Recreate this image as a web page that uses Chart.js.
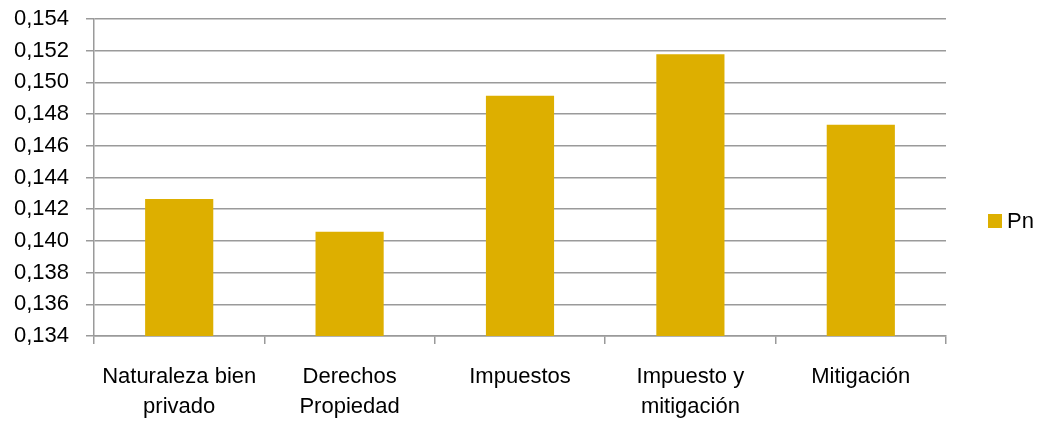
<!DOCTYPE html>
<html>
<head>
<meta charset="utf-8">
<script src="https://cdn.jsdelivr.net/npm/chart.js@4/dist/chart.umd.min.js"></script>
<style>
html,body{margin:0;padding:0;background:#fff;}
#wrap{width:1049px;height:425px;position:relative;}
</style>
</head>
<body>
<div id="wrap"><canvas id="c" width="1049" height="425"></canvas></div>
<script>
const categories = [
  ["Naturaleza bien", "privado"],
  ["Derechos", "Propiedad"],
  ["Impuestos"],
  ["Impuesto y", "mitigación"],
  ["Mitigación"]
];
const seriesName = "Pn";
const pnValues = [0.14264, 0.14058, 0.14916, 0.15177, 0.14733];
const yMin = 0.134, yMax = 0.154, yStep = 0.002;
const barColor = "#DDAF00";
const gridColor = "#9a9a9a";

const F = {family: '"Liberation Sans", Arial, sans-serif', size: 22};

const legendPlugin = {
  id: 'customLegend',
  afterDraw(chart) {
    const ctx = chart.ctx;
    ctx.save();
    ctx.fillStyle = barColor;
    ctx.fillRect(988, 214, 14, 14);
    ctx.fillStyle = '#000';
    ctx.font = F.size + 'px ' + F.family;
    ctx.textBaseline = 'middle';
    ctx.textAlign = 'left';
    ctx.fillText(chart.data.datasets[0].label, 1007, 222);
    ctx.restore();
  }
};

new Chart(document.getElementById('c'), {
  type: 'bar',
  data: {
    labels: categories,
    datasets: [{
      label: seriesName,
      data: pnValues,
      backgroundColor: barColor,
      borderWidth: 0,
      barPercentage: 0.4,
      categoryPercentage: 1.0
    }]
  },
  options: {
    responsive: false,
    animation: false,
    devicePixelRatio: 1,
    layout: {padding: {left: 0, right: 103, top: 19, bottom: 0}},
    plugins: {legend: {display: false}, tooltip: {enabled: false}},
    scales: {
      x: {
        grid: {offset: true, drawOnChartArea: false, drawTicks: true, tickLength: 8, color: gridColor, lineWidth: 1.5},
        border: {display: true, color: gridColor, width: 1.5},
        ticks: {color: '#000', font: {family: F.family, size: F.size, lineHeight: 1.36}, padding: 18, maxRotation: 0, autoSkip: false},
        afterFit(s) { s.height = 89; }
      },
      y: {
        min: yMin, max: yMax,
        grid: {color: gridColor, lineWidth: 1.5, tickLength: 8},
        border: {display: true, color: gridColor, width: 1.5},
        ticks: {
          stepSize: yStep, color: '#000', padding: 17,
          font: {family: F.family, size: F.size},
          callback: v => v.toFixed(3).replace('.', ',')
        },
        afterFit(s) { s.width = 94; s.paddingTop = 0; }
      }
    }
  },
  plugins: [legendPlugin]
});
</script>
</body>
</html>
